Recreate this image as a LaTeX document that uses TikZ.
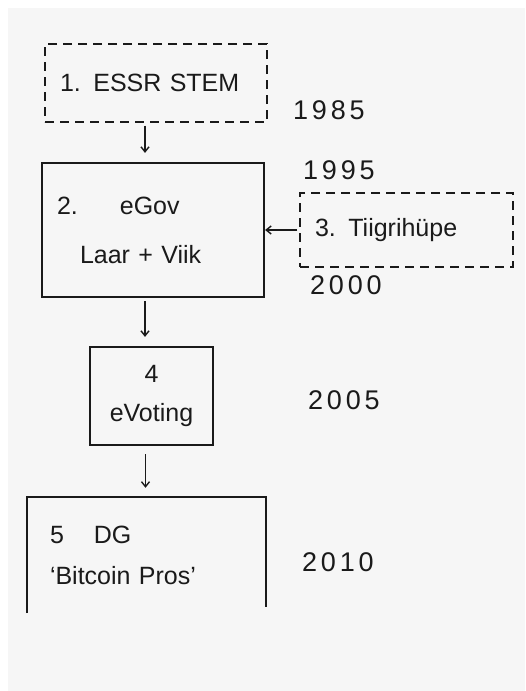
\documentclass[tikz,border=0pt]{standalone}
\usepackage{fontspec}
\setmainfont{Liberation Sans}
\usepackage{tikz}
\usetikzlibrary{
  arrows.meta,
  calc,
  positioning
}
\definecolor{paper}{HTML}{F6F6F6}
\definecolor{ink}{HTML}{1A1A1A}

\begin{document}
\begin{tikzpicture}[
  x=1pt, y=-1pt,
  font=\fontsize{25}{29}\selectfont,
  text=ink,
  stage/.style={draw=ink, line width=2.2pt, minimum width=#1, align=left,
                text width=#1-30pt, inner xsep=15pt, inner ysep=0pt},
  maybe/.style={stage=#1, line width=1.4pt, dash pattern=on 9pt off 6pt},
  year/.style={inner sep=0pt, anchor=west,
               font=\fontsize{27}{31}\selectfont\addfontfeature{LetterSpace=14}},
  arr/.style={-{Straight Barb[length=5pt,width=8pt]}, draw=ink, line width=1.4pt},
]
  % paper
  \useasboundingbox (0,0) rectangle (525,691);
  \fill[white] (0,0) rectangle (525,691);
  \fill[paper] (8,8) rectangle (525,691);

  % stages
  \node[maybe=222pt, minimum height=78pt] (essr) at (156,83) {1. ESSR STEM};
  \node[stage=222pt, minimum height=134pt] (egov) at (153,230)
    {2.\hspace{42pt}eGov\\[20pt]\hspace*{23pt}Laar + Viik};
  \node[maybe=213pt, minimum height=74pt] (tiiger) at (406.5,230)
    {3. Tiigrihüpe};
  \node[draw=ink, line width=2.2pt, minimum width=123pt, minimum height=98pt,
        align=center, inner sep=0pt] (evote) at (151.5,396)
    {4\\[10pt]eVoting};
  \node[minimum width=239pt, minimum height=116pt, align=left,
        text width=239pt-46pt, inner xsep=23pt, inner ysep=0pt]
    (dg) at (146.5,555) {5\hspace{30pt}DG\\[12pt]‘Bitcoin Pros’};
  \draw[ink, line width=2.2pt] (dg.south west) -- (dg.north west)
    -- (dg.north east) -- ([yshift=6pt]dg.south east);

  % years
  \node[year] (y85) at (293,110) {1985};
  \node[year] (y95) at (303,170) {1995};
  \node[year] (y00) at (310,285) {2000};
  \node[year] (y05) at (308,400) {2005};
  \node[year] (y10) at (302,562) {2010};

  % flow
  \draw[arr, shorten <=3pt, shorten >=9pt] ([xshift=-11pt]essr.south)
    -- ([xshift=-11pt]essr.south |- egov.north);
  \draw[arr, shorten <=3pt, shorten >=9pt] ([xshift=-8pt]egov.south)
    -- ([xshift=-8pt]egov.south |- evote.north);
  \draw[arr, shorten <=8pt, shorten >=9pt] ([xshift=-6pt]evote.south)
    -- ([xshift=-6pt]evote.south |- dg.north);
  \draw[arr, shorten <=2pt] (tiiger.west) -- (egov.east);
\end{tikzpicture}
\end{document}
